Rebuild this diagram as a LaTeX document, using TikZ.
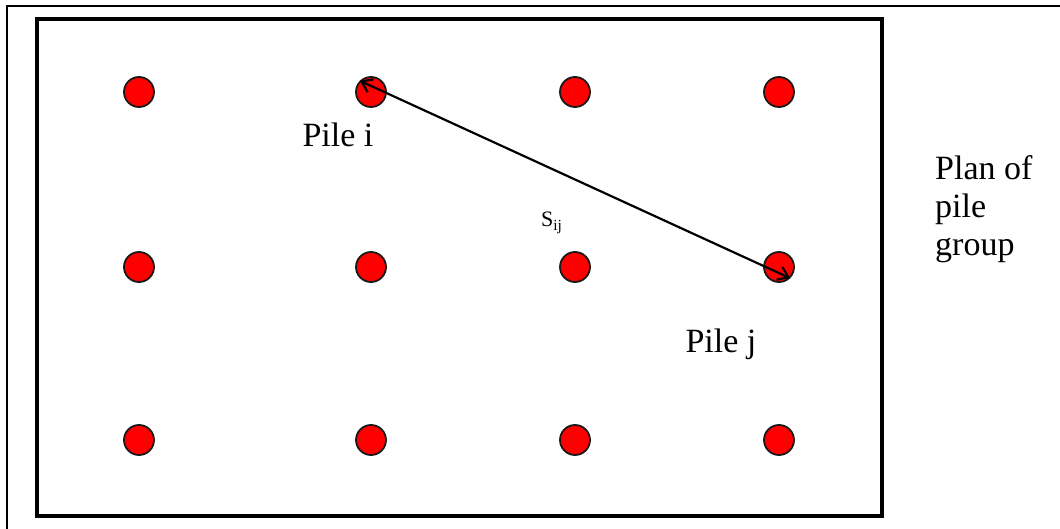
\documentclass[tikz,border=0pt]{standalone}
\usepackage{fontspec}
\setmainfont{Liberation Serif}
\usetikzlibrary{arrows.meta}
\begin{document}
\begin{tikzpicture}[x=1pt,y=-1pt,
  pile/.style={circle,draw=black!90,line width=1.8pt,fill=red,minimum size=30pt,inner sep=0pt},
  lbl/.style={font=\fontsize{34}{40}\selectfont,inner sep=0pt},
  frame/.style={draw=black,line width=3.8pt},
  conn/.style={line width=2.2pt,{Straight Barb[length=10pt,width=14pt]}-{Straight Barb[length=10pt,width=14pt]}}]
\useasboundingbox (0,0) rectangle (1060,529);
\fill[white] (0,0) rectangle (1060,529);
% outer partial frame
\draw[line width=2.2pt] (7,529) -- (7,6) -- (1060,6);
% plan boundary
\node[frame,minimum width=845pt,minimum height=497pt,inner sep=0pt] (plan) at (459.5,267.5) {};
% piles
\foreach \c/\x in {1/139,2/371,3/575,4/779}{
  \foreach \r/\y in {1/92,2/267,3/440}{
    \node[pile] (p\r\c) at (\x,\y) {};
  }
}
% connector between pile i and pile j
\draw[conn] (p12.north west) -- (p24.south east);
% labels
\node[lbl,anchor=base] (pilei) at (338,147) {Pile i};
\node[lbl,anchor=base] (pilej) at (721,352) {Pile j};
\node[font=\fontsize{22}{26}\selectfont,inner sep=0pt,anchor=base west] (sij) at (541,227) {S\textsubscript{ij}};
\node[lbl,anchor=base west] (plantxt) at (935,180) {Plan of};
\node[lbl,anchor=base west] (pile) at (935,218) {pile};
\node[lbl,anchor=base west] (group) at (935,256) {group};
\end{tikzpicture}
\end{document}
